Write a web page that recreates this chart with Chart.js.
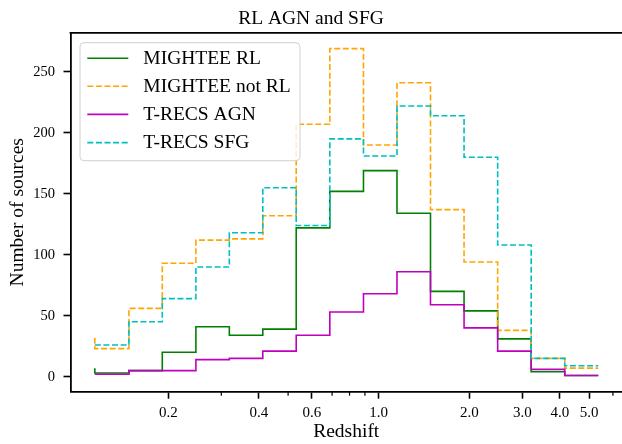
<!DOCTYPE html>
<html>
<head>
<meta charset="utf-8">
<script src="https://cdn.jsdelivr.net/npm/chart.js@4/dist/chart.umd.min.js"></script>
<style>
  html, body { margin: 0; padding: 0; background: #fff; }
  #wrap { width: 622px; height: 444px; }
</style>
</head>
<body>
<div id="wrap"><canvas id="c" width="622" height="444"></canvas></div>
<script>
// ---- data ----
// bin edges in redshift (log-spaced); first value of each series is the step "tip" at the first edge
const binEdges = [0.114, 0.148, 0.191, 0.247, 0.319, 0.412, 0.532, 0.688, 0.890, 1.150, 1.486, 1.921, 2.484, 3.210, 4.150, 5.364];
const mighteeRL    = [7, 3, 5, 20, 41, 34, 39, 122, 152, 169, 134, 70, 54, 31, 4, 1];
const mighteeNotRL = [32, 23, 56, 93, 112, 113, 132, 207, 269, 190, 241, 137, 94, 38, 15, 7];
const trecsAGN     = [2, 2, 5, 5, 14, 15, 21, 34, 53, 68, 86, 59, 40, 21, 6, 1];
const trecsSFG     = [26, 26, 45, 64, 90, 118, 155, 124, 195, 181, 222, 214, 180, 108, 15, 9];
const seriesLabels = ['MIGHTEE RL', 'MIGHTEE not RL', 'T-RECS AGN', 'T-RECS SFG'];
const xMajorTicks = [0.2, 0.4, 0.6, 1.0, 2.0, 3.0, 4.0, 5.0];
const xMinorTicks = [0.3, 0.5, 0.7, 0.8, 0.9, 6.0];
const yTicks = [0, 50, 100, 150, 200, 250];
const titleText = 'RL AGN and SFG';
const xTitle = 'Redshift';
const yTitle = 'Number of sources';

// ---- build ----
const FONT = '"Liberation Serif", "Times New Roman", serif';
const toPts = (vals) => binEdges.map((x, i) => ({ x: x, y: vals[i] }));
const DASH = [6, 2.6];

const datasets = [
  { label: seriesLabels[0], data: toPts(mighteeRL),    borderColor: '#008000', borderDash: [],   order: 3 },
  { label: seriesLabels[1], data: toPts(mighteeNotRL), borderColor: '#FFA500', borderDash: DASH, order: 2 },
  { label: seriesLabels[2], data: toPts(trecsAGN),     borderColor: '#BF00BF', borderDash: [],   order: 1 },
  { label: seriesLabels[3], data: toPts(trecsSFG),     borderColor: '#00BFBF', borderDash: DASH, order: 0 }
].map(d => Object.assign(d, {
  stepped: 'after', borderWidth: 1.6, pointRadius: 0, pointHoverRadius: 0,
  fill: false, tension: 0, backgroundColor: 'transparent', borderCapStyle: 'butt'
}));

const framePlugin = {
  id: 'frameAndLegend',
  afterDraw(chart) {
    const ctx = chart.ctx;
    const a = chart.chartArea;
    const xs = chart.scales.x;
    ctx.save();
    // top spine
    ctx.strokeStyle = '#000';
    ctx.lineWidth = 1.8;
    ctx.beginPath();
    ctx.moveTo(a.left - 0.9, a.top);
    ctx.lineTo(a.right + 2, a.top);
    ctx.stroke();
    // minor ticks on the x axis
    ctx.lineWidth = 1.2;
    xMinorTicks.forEach(v => {
      const px = xs.getPixelForValue(v);
      ctx.beginPath();
      ctx.moveTo(px, a.bottom);
      ctx.lineTo(px, a.bottom + 4);
      ctx.stroke();
    });
    // legend
    const L = { x: 80, y: 42.7, w: 220, h: 118, r: 4 };
    ctx.beginPath();
    ctx.roundRect(L.x, L.y, L.w, L.h, L.r);
    ctx.fillStyle = 'rgba(255,255,255,0.8)';
    ctx.fill();
    ctx.strokeStyle = '#d0d0d0';
    ctx.lineWidth = 1;
    ctx.stroke();
    const rows = [58.3, 86.2, 114.4, 142.6];
    chart.data.datasets.forEach((ds, i) => {
      const y = rows[i];
      ctx.strokeStyle = ds.borderColor;
      ctx.lineWidth = ds.borderWidth;
      ctx.setLineDash(ds.borderDash || []);
      ctx.beginPath();
      ctx.moveTo(87.3, y);
      ctx.lineTo(128.3, y);
      ctx.stroke();
      ctx.setLineDash([]);
      ctx.fillStyle = '#000';
      ctx.font = '19.5px ' + FONT;
      ctx.textBaseline = 'middle';
      ctx.textAlign = 'left';
      ctx.fillText(ds.label, 143.3, y + 0.5);
    });
    ctx.restore();
  }
};

new Chart(document.getElementById('c'), {
  type: 'line',
  data: { datasets },
  plugins: [framePlugin],
  options: {
    responsive: false,
    animation: false,
    events: [],
    layout: { padding: { left: 0, right: 0, top: 0, bottom: 0 } },
    plugins: {
      legend: { display: false },
      tooltip: { enabled: false },
      title: {
        display: true, text: titleText, color: '#000',
        font: { family: FONT, size: 19.5, weight: 'normal', lineHeight: 1.2 },
        padding: { top: 7, bottom: 2.4 }
      }
    },
    scales: {
      x: {
        type: 'logarithmic',
        position: 'bottom',
        min: 0.09465, max: 6.43,
        afterFit: (s) => { s.height = 52.3; },
        afterBuildTicks: (s) => { s.ticks = xMajorTicks.map(v => ({ value: v })); },
        ticks: {
          autoSkip: false, maxRotation: 0, minRotation: 0, color: '#000',
          font: { family: FONT, size: 15 }, padding: 5,
          callback: (v) => Number(v).toFixed(1)
        },
        grid: { display: true, drawOnChartArea: false, drawTicks: true, tickLength: 7, tickWidth: 1.6, tickColor: '#000' },
        border: { display: true, color: '#000', width: 1.8 },
        title: {
          display: true, text: xTitle, color: '#000',
          font: { family: FONT, size: 19.5, lineHeight: 1.2 },
          padding: { top: 0, bottom: 0 }
        }
      },
      y: {
        type: 'linear',
        min: -12.3, max: 282,
        afterFit: (s) => { s.width = 70.5; },
        afterBuildTicks: (s) => { s.ticks = yTicks.map(v => ({ value: v })); },
        ticks: {
          color: '#000', font: { family: FONT, size: 14.5 }, padding: 8.5,
          callback: (v) => String(v)
        },
        grid: { display: true, drawOnChartArea: false, drawTicks: true, tickLength: 7, tickWidth: 1.6, tickColor: '#000' },
        border: { display: true, color: '#000', width: 1.8 },
        title: {
          display: true, text: yTitle, color: '#000',
          font: { family: FONT, size: 19.5, lineHeight: 1.2 },
          padding: { top: 6, bottom: 0 }
        }
      }
    }
  }
});
</script>
</body>
</html>
